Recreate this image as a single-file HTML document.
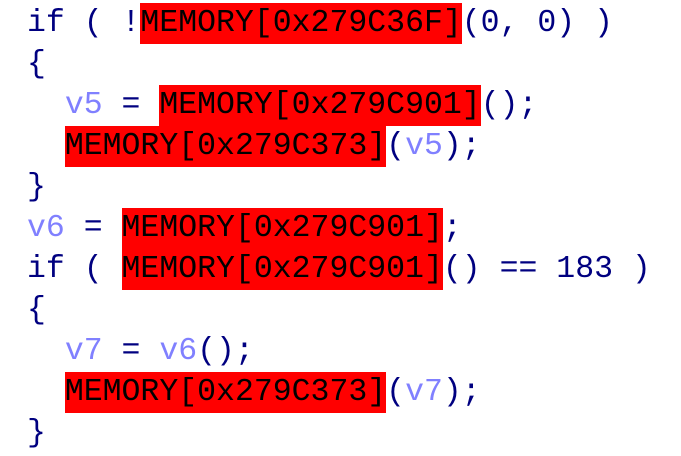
<!DOCTYPE html>
<html><head><style>
html,body{margin:0;padding:0;background:#fff;width:681px;height:456px;overflow:hidden}
pre{margin:0;padding:3px 0 0 27px;font-family:"Liberation Mono",monospace;font-size:31.5px;line-height:41px;color:#000080}
.r{background:#ff0000;color:#000;display:inline-block;height:41px;vertical-align:top}
.v{color:#8080ff}
</style></head><body>
<pre>if ( !<span class="r">MEMORY[0x279C36F]</span>(0, 0) )
{
  <span class="v">v5</span> = <span class="r">MEMORY[0x279C901]</span>();
  <span class="r">MEMORY[0x279C373]</span>(<span class="v">v5</span>);
}
<span class="v">v6</span> = <span class="r">MEMORY[0x279C901]</span>;
if ( <span class="r">MEMORY[0x279C901]</span>() == 183 )
{
  <span class="v">v7</span> = <span class="v">v6</span>();
  <span class="r">MEMORY[0x279C373]</span>(<span class="v">v7</span>);
}</pre>
</body></html>
